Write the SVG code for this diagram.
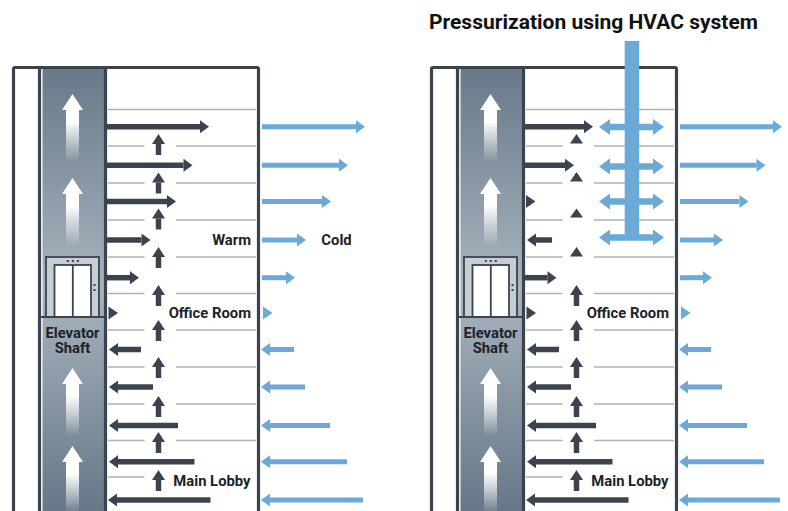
<svg xmlns="http://www.w3.org/2000/svg" xmlns:xlink="http://www.w3.org/1999/xlink" width="788" height="511" viewBox="0 0 788 511">
<style>
text{font-family:Roboto,"Liberation Sans",sans-serif;fill:#1c2227}
.t{font-size:14.8px;font-weight:700}
.title{font-size:21px;font-weight:700;fill:#111}
.wall{fill:none;stroke:#3b444c;stroke-width:3.2}
.fl{stroke:#adb2b6;stroke-width:1.6}
.d{stroke:#3b444c;stroke-width:5.5;fill:none}
.u{stroke:#3b444c;stroke-width:5.5;fill:none}
.b{stroke:#6aaad8;stroke-width:5;fill:none}
.h{stroke:#6aaad8;stroke-width:6.5;fill:none}
.fr{stroke:#3b444c;stroke-width:1.8}
.dk{fill:#3b444c}
.bl{fill:#6aaad8}
</style>
<defs>
<linearGradient id="sg" x1="0" y1="67" x2="0" y2="511" gradientUnits="userSpaceOnUse">
<stop offset="0" stop-color="#687989"/><stop offset="0.5" stop-color="#a9b4bf"/><stop offset="1" stop-color="#667787"/>
</linearGradient>
<linearGradient id="wg" x1="0" y1="0" x2="0" y2="1">
<stop offset="0" stop-color="#fff"/><stop offset="0.4" stop-color="#fff"/><stop offset="1" stop-color="#fff" stop-opacity="0"/>
</linearGradient>
<marker id="md" markerUnits="userSpaceOnUse" markerWidth="9" markerHeight="13" refX="0" refY="6.5" orient="auto" overflow="visible"><path d="M0 0L9 6.5L0 13Z" class="dk"/></marker>
<marker id="mu" markerUnits="userSpaceOnUse" markerWidth="10" markerHeight="13" refX="0" refY="6.5" orient="auto" overflow="visible"><path d="M0 0L10 6.5L0 13Z" class="dk"/></marker>
<marker id="mb" markerUnits="userSpaceOnUse" markerWidth="9" markerHeight="13" refX="0" refY="6.5" orient="auto" overflow="visible"><path d="M0 0L9 6.5L0 13Z" class="bl"/></marker>
<marker id="mh" markerUnits="userSpaceOnUse" markerWidth="11" markerHeight="16" refX="0" refY="8" orient="auto" overflow="visible"><path d="M0 0L11 8L0 16Z" class="bl"/></marker>
<path id="wa" fill="url(#wg)" d="M10.500 0L21 16H17V68H4V16H0Z"/>
<g id="bldg">
<rect x="42.500" y="69" width="62.500" height="442" fill="url(#sg)"/>
<path class="wall" d="M13.500 513V69Q13.500 67.500 15 67.500H257Q258.500 67.500 258.500 69V513M39.500 67.500V513M105.500 67.500V513"/>
<use xlink:href="#wa" x="62" y="94"/>
<use xlink:href="#wa" x="62" y="178"/>
<use xlink:href="#wa" x="62" y="368"/>
<use xlink:href="#wa" x="62" y="446"/>
<rect x="46" y="257" width="53" height="60" fill="#c6cdd4" class="fr"/>
<rect x="54.500" y="265" width="36.500" height="52" fill="#fff" class="fr"/>
<path class="fr" d="M72.800 265V317M41 317H104"/>
<path class="dk" d="M66.800 260h2v2h-2zM71.800 260h2v2h-2zM76.800 260h2v2h-2zM93.500 284h2v2h-2zM93.500 289h2v2h-2z"/>
<path class="fl" d="M108 109.500H256M108 146H144.500M176 146H256M108 183H144.500M176 183H256M108 220H144.500M176 220H256M108 257H144.500M176 257H256M108 293.500H144.500M176 293.500H256M108 330H144.500M176 330H256M108 367H144.500M176 367H256M108 404H144.500M176 404H256M108 440.500H144.500M176 440.500H256M108 477H144.500"/>
</g>
</defs>

<g id="title"><text class="title" x="429" y="29">Pressurization using HVAC system</text></g>

<g id="building-natural">
<use xlink:href="#bldg"/>
<text class="t" text-anchor="middle"><tspan x="72.500" y="338">Elevator</tspan><tspan x="72.500" y="353">Shaft</tspan></text>
<text class="t" x="251" y="245" text-anchor="end">Warm</text>
<text class="t" x="251" y="318" text-anchor="end">Office Room</text>
<text class="t" x="250.500" y="486" text-anchor="end">Main Lobby</text>
</g>
<g id="outside-cold"><text class="t" x="336.500" y="245" text-anchor="middle">Cold</text></g>

<g id="building-hvac">
<use xlink:href="#bldg" x="418"/>
<text class="t" text-anchor="middle"><tspan x="490.500" y="338">Elevator</tspan><tspan x="490.500" y="353">Shaft</tspan></text>
<text class="t" x="669" y="318" text-anchor="end">Office Room</text>
<text class="t" x="668.500" y="486" text-anchor="end">Main Lobby</text>
</g>

<g id="connectors-natural">
<g marker-end="url(#md)" class="d">
<line x1="107" y1="126.700" x2="200" y2="126.700"/>
<line x1="107" y1="165.300" x2="183.500" y2="165.300"/>
<line x1="107" y1="201.500" x2="167" y2="201.500"/>
<line x1="107" y1="240" x2="141.500" y2="240"/>
<line x1="107" y1="277.700" x2="130" y2="277.700"/>
<line x1="141" y1="349.500" x2="118" y2="349.500"/>
<line x1="153" y1="387" x2="118" y2="387"/>
<line x1="178" y1="425.500" x2="118" y2="425.500"/>
<line x1="194.500" y1="461.700" x2="118" y2="461.700"/>
<line x1="210.500" y1="500" x2="117" y2="500"/>
</g>
<path class="dk" d="M108.500 306.500L118 313L108.500 319.500Z"/>
<g marker-end="url(#mu)" class="u">
<line x1="158.500" y1="155" x2="158.500" y2="144"/>
<line x1="158.500" y1="193.500" x2="158.500" y2="182.500"/>
<line x1="158.500" y1="229.500" x2="158.500" y2="218.500"/>
<line x1="158.500" y1="268" x2="158.500" y2="257"/>
<line x1="158.500" y1="306" x2="158.500" y2="295"/>
<line x1="158.500" y1="341" x2="158.500" y2="330"/>
<line x1="158.500" y1="378" x2="158.500" y2="367"/>
<line x1="158.500" y1="417" x2="158.500" y2="406"/>
<line x1="158.500" y1="453" x2="158.500" y2="442"/>
<line x1="158.500" y1="491" x2="158.500" y2="480"/>
</g>
<g marker-end="url(#mb)" class="b">
<line x1="262" y1="126.700" x2="356" y2="126.700"/>
<line x1="262" y1="165.300" x2="339" y2="165.300"/>
<line x1="262" y1="201.500" x2="322" y2="201.500"/>
<line x1="262" y1="240" x2="297" y2="240"/>
<line x1="262" y1="277.700" x2="286" y2="277.700"/>
<line x1="294" y1="349.500" x2="270" y2="349.500"/>
<line x1="305" y1="387" x2="270" y2="387"/>
<line x1="330" y1="425.500" x2="270" y2="425.500"/>
<line x1="347" y1="461.700" x2="270" y2="461.700"/>
<line x1="363" y1="500" x2="270" y2="500"/>
</g>
<path class="bl" d="M263 306.500L272.500 313L263 319.500Z"/>
</g>

<g id="connectors-hvac">
<g marker-end="url(#md)" class="d">
<line x1="525" y1="126.700" x2="584" y2="126.700"/>
<line x1="525" y1="165.300" x2="565" y2="165.300"/>
<line x1="552" y1="240" x2="536" y2="240"/>
<line x1="525" y1="277.700" x2="547.500" y2="277.700"/>
<line x1="559" y1="349.500" x2="536" y2="349.500"/>
<line x1="571" y1="387" x2="536" y2="387"/>
<line x1="596" y1="425.500" x2="536" y2="425.500"/>
<line x1="612.500" y1="461.700" x2="536" y2="461.700"/>
<line x1="628.500" y1="500" x2="535" y2="500"/>
</g>
<path class="dk" d="M526 195L535.500 201.500L526 208ZM526.500 306.500L536 313L526.500 319.500ZM570 143.500L576.500 134L583 143.500ZM570 181.500L576.500 172L583 181.500ZM570 217.500L576.500 208.500L583 217.500ZM570 256.500L576.500 247L583 256.500Z"/>
<g marker-end="url(#mu)" class="u">
<line x1="576.500" y1="306" x2="576.500" y2="295"/>
<line x1="576.500" y1="341" x2="576.500" y2="330"/>
<line x1="576.500" y1="378" x2="576.500" y2="367"/>
<line x1="576.500" y1="417" x2="576.500" y2="406"/>
<line x1="576.500" y1="453" x2="576.500" y2="442"/>
<line x1="576.500" y1="491" x2="576.500" y2="480"/>
</g>
<g marker-end="url(#mb)" class="b">
<line x1="680" y1="126.700" x2="773" y2="126.700"/>
<line x1="680" y1="165.300" x2="756.500" y2="165.300"/>
<line x1="680" y1="201.500" x2="739.500" y2="201.500"/>
<line x1="680" y1="240" x2="714" y2="240"/>
<line x1="680" y1="277.700" x2="703" y2="277.700"/>
<line x1="711" y1="349.500" x2="688" y2="349.500"/>
<line x1="722" y1="387" x2="688" y2="387"/>
<line x1="747" y1="425.500" x2="688" y2="425.500"/>
<line x1="764" y1="461.700" x2="688" y2="461.700"/>
<line x1="780" y1="500" x2="688" y2="500"/>
</g>
<path class="bl" d="M681 306.500L690.500 313L681 319.500Z"/>
</g>

<g id="hvac-duct">
<rect x="624.700" y="41" width="14.500" height="197" class="bl"/>
<g class="h" marker-end="url(#mh)">
<line x1="632" y1="127" x2="653" y2="127"/><line x1="632" y1="127" x2="610" y2="127"/>
<line x1="632" y1="166.500" x2="653" y2="166.500"/><line x1="632" y1="166.500" x2="610" y2="166.500"/>
<line x1="632" y1="201.500" x2="653" y2="201.500"/><line x1="632" y1="201.500" x2="610" y2="201.500"/>
<line x1="632" y1="237.500" x2="653" y2="237.500"/><line x1="632" y1="237.500" x2="610" y2="237.500"/>
</g>
</g>
</svg>
